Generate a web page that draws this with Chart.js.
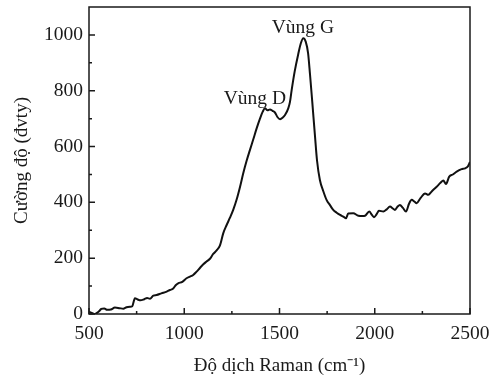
<!DOCTYPE html>
<html>
<head>
<meta charset="utf-8">
<script src="https://cdn.jsdelivr.net/npm/chart.js@4"></script>
<style>
  html, body { margin: 0; padding: 0; background: #fff; }
  #wrap { width: 495px; height: 381px; }
</style>
</head>
<body>
<div id="wrap"><canvas id="ramanChart"></canvas></div>
<script>
// Raman shift (cm-1) and intensity (dvty)
const shifts = [500, 515, 531, 550, 565, 580, 595, 615, 636, 660, 680, 697, 715, 727, 741, 755, 770, 790, 805, 820,
  838, 855, 880, 908, 925, 942, 955, 968, 990, 1012, 1030, 1047, 1065, 1082, 1100, 1117, 1135, 1152, 1170, 1187,
  1205, 1222, 1240, 1257, 1275, 1293, 1310, 1327, 1345, 1362, 1380, 1398, 1412, 1424, 1437, 1450, 1463, 1476, 1490, 1503,
  1516, 1529, 1546, 1555, 1564, 1580, 1598, 1612, 1625, 1638, 1650, 1660, 1672, 1686, 1697, 1712, 1730, 1747, 1765, 1782,
  1800, 1818, 1835, 1849, 1861, 1887, 1914, 1935, 1949, 1971, 1985, 1996, 2010, 2022, 2045, 2063, 2080, 2095, 2106, 2120,
  2132, 2148, 2164, 2180, 2194, 2208, 2220, 2240, 2264, 2281, 2300, 2325, 2345, 2360, 2374, 2391, 2410, 2430, 2456, 2474,
  2490, 2500];
const intensity = [8, 4, 0, 8, 18, 20, 15, 16, 23, 21, 19, 24, 26, 28, 56, 52, 49, 53, 57, 55,
  66, 68, 74, 80, 86, 91, 103, 110, 115, 128, 134, 140, 152, 165, 178, 188, 198, 215, 228, 245,
  290, 318, 345, 373, 410, 456, 505, 548, 588, 625, 665, 701, 725, 737, 730, 733, 728, 722, 705, 698,
  703, 713, 737, 760, 803, 870, 930, 970, 988, 975, 935, 860, 760, 640, 550, 480, 440, 409, 390, 373,
  363, 355, 349, 343, 360, 361, 352, 351, 352, 367, 355, 347, 358, 370, 367, 375, 385, 378, 373, 385,
  391, 380, 367, 395, 409, 403, 397, 415, 432, 427, 440, 456, 470, 478, 466, 492, 500, 510, 519, 522,
  530, 545];

const xTicks = [500, 1000, 1500, 2000, 2500];
const yTicks = [0, 200, 400, 600, 800, 1000];
const peakLabels = ['Vùng D', 'Vùng G'];
const peakX = [1371, 1623];
const peakY = [752, 1008];

const ink = '#1a1a1a';
const serif = "'Liberation Serif', 'Times New Roman', serif";

// frame, inward ticks and the band labels
const framePlugin = {
    id: 'frame',
    afterDraw(chart) {
        const ctx = chart.ctx;
        const a = chart.chartArea;
        const xs = chart.scales.x;
        const ys = chart.scales.y;
        ctx.save();
        ctx.strokeStyle = ink;
        ctx.lineWidth = 1.5;
        ctx.strokeRect(a.left, a.top, a.right - a.left, a.bottom - a.top);
        ctx.beginPath();
        for (let v = 500; v <= 2500; v += 250) {
            const px = xs.getPixelForValue(v);
            const len = v % 500 === 0 ? 6 : 3;
            ctx.moveTo(px, a.bottom);
            ctx.lineTo(px, a.bottom - len);
        }
        for (let v = 0; v <= 1000; v += 100) {
            const py = ys.getPixelForValue(v);
            const len = v % 200 === 0 ? 6 : 3;
            ctx.moveTo(a.left, py);
            ctx.lineTo(a.left + len, py);
        }
        ctx.stroke();

        ctx.fillStyle = ink;
        ctx.font = '19.5px ' + serif;
        ctx.textAlign = 'center';
        ctx.textBaseline = 'alphabetic';
        peakLabels.forEach((t, i) => {
            ctx.fillText(t, xs.getPixelForValue(peakX[i]), ys.getPixelForValue(peakY[i]));
        });
        ctx.restore();
    }
};

const ctx = document.getElementById('ramanChart').getContext('2d');
new Chart(ctx, {
    type: 'line',
    data: {
        datasets: [{
            data: shifts.map((s, i) => ({ x: s, y: intensity[i] })),
            borderColor: '#111',
            borderWidth: 2,
            pointRadius: 0,
            cubicInterpolationMode: 'monotone',
            fill: false
        }]
    },
    options: {
        responsive: true,
        maintainAspectRatio: false,
        animation: false,
        layout: { padding: { top: 7, right: 25, left: 0, bottom: 0 } },
        plugins: {
            legend: { display: false },
            tooltip: { enabled: false }
        },
        scales: {
            x: {
                type: 'linear',
                min: 500,
                max: 2500,
                afterBuildTicks: scale => { scale.ticks = xTicks.map(v => ({ value: v })); },
                afterFit: scale => {
                    scale.height = 67;
                    scale.paddingLeft = 0;
                    scale.paddingRight = 0;
                },
                grid: { display: false, drawTicks: false },
                border: { display: false },
                ticks: {
                    color: ink,
                    padding: 8,
                    maxRotation: 0,
                    font: { family: serif, size: 19.5 },
                    callback: v => String(v)
                },
                title: {
                    display: true,
                    text: 'Độ dịch Raman (cm⁻¹)',
                    color: ink,
                    padding: { top: 0, bottom: 4 },
                    font: { family: serif, size: 19 }
                }
            },
            y: {
                min: 0,
                max: 1100,
                afterBuildTicks: scale => { scale.ticks = yTicks.map(v => ({ value: v })); },
                afterFit: scale => {
                    scale.width = 89;
                    scale.paddingTop = 0;
                    scale.paddingBottom = 0;
                },
                grid: { display: false, drawTicks: false },
                border: { display: false },
                ticks: {
                    color: ink,
                    padding: 6,
                    font: { family: serif, size: 19.5 },
                    callback: v => String(v)
                },
                title: {
                    display: true,
                    text: 'Cường độ (đvty)',
                    color: ink,
                    padding: { top: 11, bottom: 0 },
                    font: { family: serif, size: 19 }
                }
            }
        }
    },
    plugins: [framePlugin]
});
</script>
</body>
</html>
